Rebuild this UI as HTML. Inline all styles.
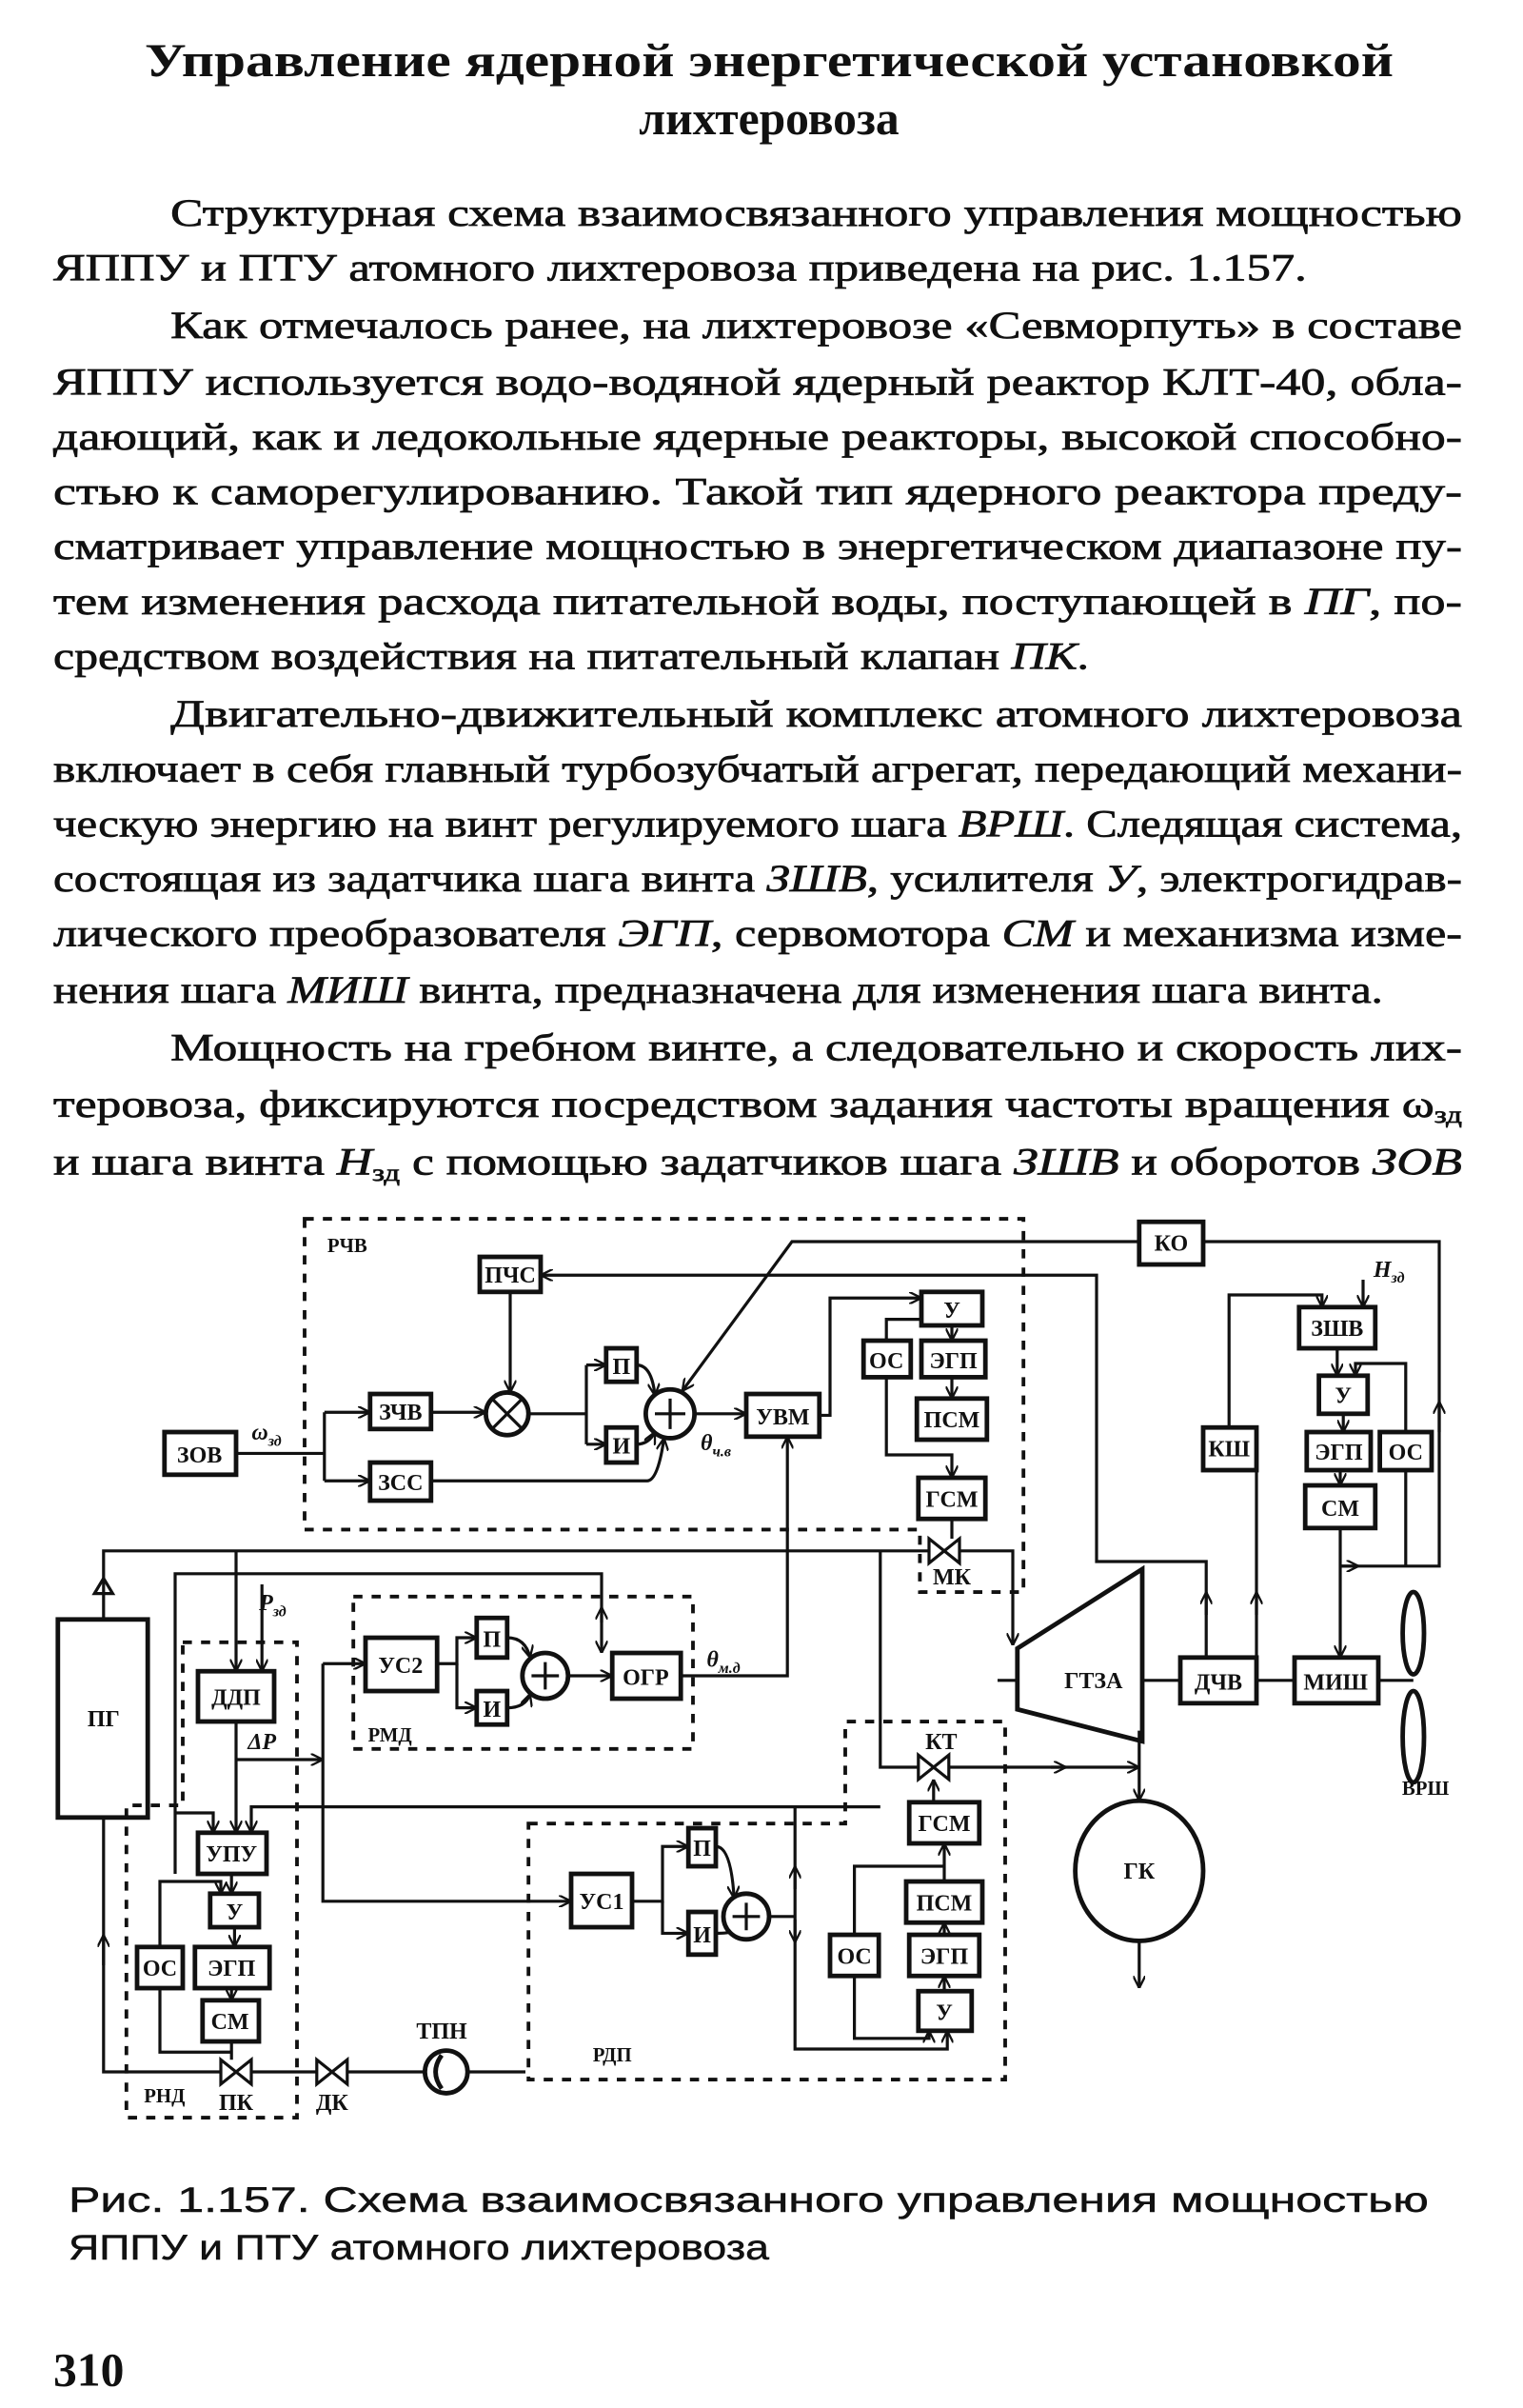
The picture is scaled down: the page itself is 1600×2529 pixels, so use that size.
<!DOCTYPE html>
<html><head><meta charset="utf-8">
<style>
html,body{margin:0;padding:0;background:#fff;}
svg{display:block;}
.t{font-family:"Liberation Serif","Noto Serif CJK SC",serif;font-size:25px;fill:#111;stroke:#111;stroke-width:0.45;}
.ti{font-family:"Liberation Serif","Noto Serif CJK SC",serif;font-weight:bold;font-size:31px;fill:#111;}
.cap{font-family:"Liberation Sans","Noto Sans CJK SC",sans-serif;font-size:23px;fill:#111;stroke:#111;stroke-width:0.3;}
.b{fill:none;stroke:#111;stroke-width:3;}
.l{fill:none;stroke:#111;stroke-width:2;}
.d{fill:none;stroke:#111;stroke-width:2.4;stroke-dasharray:6 6;}
.lb{font-family:"Liberation Serif",serif;font-size:15px;font-weight:bold;fill:#111;text-anchor:middle;}
.sl{font-family:"Liberation Serif",serif;font-size:13px;font-weight:bold;fill:#111;text-anchor:middle;}
</style></head><body>
<svg width="1600" height="2529" viewBox="0 0 1000 1580.6" xmlns="http://www.w3.org/2000/svg">
<defs>
<marker id="a" viewBox="0 0 10 10" refX="10" refY="5" markerWidth="8" markerHeight="8" markerUnits="userSpaceOnUse" orient="auto"><path d="M0,0 L10,5 L0,10" fill="none" stroke="#111" stroke-width="1.8"/></marker>
</defs>
<rect width="1000" height="1581" fill="#fff"/>
<text class="ti" x="505" y="50" text-anchor="middle" textLength="820" lengthAdjust="spacingAndGlyphs">Управление ядерной энергетической установкой</text>
<text class="ti" x="505" y="88" text-anchor="middle">лихтеровоза</text>
<g class="t">
<text x="112" y="148" textLength="848" lengthAdjust="spacingAndGlyphs">Структурная схема взаимосвязанного управления мощностью</text>
<text x="35" y="184" textLength="823" lengthAdjust="spacingAndGlyphs">ЯППУ и ПТУ атомного лихтеровоза приведена на рис. 1.157.</text>
<text x="112" y="222" textLength="848" lengthAdjust="spacingAndGlyphs">Как отмечалось ранее, на лихтеровозе «Севморпуть» в составе</text>
<text x="35" y="259" textLength="925" lengthAdjust="spacingAndGlyphs">ЯППУ используется водо-водяной ядерный реактор КЛТ-40, обла-</text>
<text x="35" y="295" textLength="925" lengthAdjust="spacingAndGlyphs">дающий, как и ледокольные ядерные реакторы, высокой способно-</text>
<text x="35" y="331" textLength="925" lengthAdjust="spacingAndGlyphs">стью к саморегулированию. Такой тип ядерного реактора преду-</text>
<text x="35" y="367" textLength="925" lengthAdjust="spacingAndGlyphs">сматривает управление мощностью в энергетическом диапазоне пу-</text>
<text x="35" y="403" textLength="925" lengthAdjust="spacingAndGlyphs">тем изменения расхода питательной воды, поступающей в <tspan font-style="italic">ПГ</tspan>, по-</text>
<text x="35" y="439" textLength="680" lengthAdjust="spacingAndGlyphs">средством воздействия на питательный клапан <tspan font-style="italic">ПК</tspan>.</text>
<text x="112" y="477" textLength="848" lengthAdjust="spacingAndGlyphs">Двигательно-движительный комплекс атомного лихтеровоза</text>
<text x="35" y="513" textLength="925" lengthAdjust="spacingAndGlyphs">включает в себя главный турбозубчатый агрегат, передающий механи-</text>
<text x="35" y="549" textLength="925" lengthAdjust="spacingAndGlyphs">ческую энергию на винт регулируемого шага <tspan font-style="italic">ВРШ</tspan>. Следящая система,</text>
<text x="35" y="585" textLength="925" lengthAdjust="spacingAndGlyphs">состоящая из задатчика шага винта <tspan font-style="italic">ЗШВ</tspan>, усилителя <tspan font-style="italic">У</tspan>, электрогидрав-</text>
<text x="35" y="621" textLength="925" lengthAdjust="spacingAndGlyphs">лического преобразователя <tspan font-style="italic">ЭГП</tspan>, сервомотора <tspan font-style="italic">СМ</tspan> и механизма изме-</text>
<text x="35" y="658" textLength="873" lengthAdjust="spacingAndGlyphs">нения шага <tspan font-style="italic">МИШ</tspan> винта, предназначена для изменения шага винта.</text>
<text x="112" y="696" textLength="848" lengthAdjust="spacingAndGlyphs">Мощность на гребном винте, а следовательно и скорость лих-</text>
<text x="35" y="733" textLength="925" lengthAdjust="spacingAndGlyphs">теровоза, фиксируются посредством задания частоты вращения ω<tspan font-size="16" dy="4">зд</tspan></text>
<text x="35" y="771" textLength="925" lengthAdjust="spacingAndGlyphs">и шага винта <tspan font-style="italic">Н</tspan><tspan font-size="16" dy="4">зд</tspan><tspan dy="-4"> с помощью задатчиков шага </tspan><tspan font-style="italic">ЗШВ</tspan> и оборотов <tspan font-style="italic">ЗОВ</tspan></text>
</g>

<path class="d" d="M200,800 H672 V1045 H604 V1004 H200 Z"/>
<path class="d" d="M232,1048 H455 V1148 H232 Z"/>
<path class="d" d="M120,1078 H195 V1390 H83 V1185 H120 Z"/>
<path class="d" d="M347,1197 H555 V1130 H660 V1365 H347 Z"/>

<text class="sl" x="228" y="822">РЧВ</text>
<text class="sl" x="256" y="1143">РМД</text>
<text class="sl" x="108" y="1380">РНД</text>
<text class="sl" x="402" y="1353">РДП</text>

<g class="b">
<rect x="108" y="940" width="47" height="28"/>
<rect x="315" y="825" width="40" height="23"/>
<rect x="243" y="915" width="40" height="23"/>
<rect x="243" y="960" width="40" height="25"/>
<rect x="398" y="885" width="20" height="22"/>
<rect x="398" y="937" width="20" height="23"/>
<rect x="490" y="915" width="48" height="28"/>
<rect x="605" y="848" width="40" height="22"/>
<rect x="567" y="880" width="31" height="24"/>
<rect x="605" y="880" width="42" height="24"/>
<rect x="602" y="918" width="46" height="27"/>
<rect x="603" y="970" width="44" height="27"/>
<rect x="748" y="802" width="42" height="28"/>
<rect x="853" y="858" width="50" height="27"/>
<rect x="866" y="903" width="32" height="25"/>
<rect x="790" y="937" width="35" height="28"/>
<rect x="858" y="940" width="42" height="25"/>
<rect x="906" y="940" width="34" height="25"/>
<rect x="857" y="975" width="46" height="28"/>
<rect x="775" y="1088" width="50" height="30"/>
<rect x="850" y="1088" width="55" height="30"/>
<rect x="38" y="1063" width="59" height="130"/>
<rect x="130" y="1097" width="50" height="33"/>
<rect x="130" y="1203" width="45" height="27"/>
<rect x="138" y="1243" width="32" height="22"/>
<rect x="90" y="1278" width="30" height="27"/>
<rect x="128" y="1278" width="49" height="27"/>
<rect x="133" y="1313" width="37" height="27"/>
<rect x="240" y="1075" width="47" height="35"/>
<rect x="313" y="1062" width="20" height="26"/>
<rect x="313" y="1110" width="20" height="22"/>
<rect x="402" y="1085" width="45" height="30"/>
<rect x="597" y="1183" width="46" height="27"/>
<rect x="595" y="1235" width="50" height="27"/>
<rect x="545" y="1270" width="32" height="27"/>
<rect x="597" y="1270" width="46" height="27"/>
<rect x="603" y="1307" width="35" height="26"/>
<rect x="375" y="1230" width="40" height="35"/>
<rect x="452" y="1200" width="18" height="25"/>
<rect x="452" y="1255" width="18" height="28"/>
<circle cx="333" cy="928" r="14"/>
<circle cx="440" cy="928" r="16"/>
<circle cx="358" cy="1100" r="15"/>
<circle cx="490" cy="1258" r="15"/>
<ellipse cx="748" cy="1228" rx="42" ry="46"/>
<path d="M668,1082 L750,1030 V1143 L668,1122 Z"/>
<ellipse cx="928" cy="1072" rx="7" ry="27"/>
<ellipse cx="928" cy="1140" rx="7" ry="30"/>
<circle cx="293" cy="1360" r="14"/>
</g>
<path class="l" d="M323,918 L343,938 M343,918 L323,938"/>
<path class="l" d="M440,918 V938 M430,928 H450 M358,1091 V1109 M349,1100 H367 M490,1249 V1267 M481,1258 H499"/>
<path class="b" d="M290,1349 Q282,1360 290,1371" />

<g class="lb">
<text x="131" y="960">ЗОВ</text>
<text x="335" y="842">ПЧС</text>
<text x="263" y="932">ЗЧВ</text>
<text x="263" y="978">ЗСС</text>
<text x="408" y="902">П</text>
<text x="408" y="954">И</text>
<text x="514" y="935">УВМ</text>
<text x="625" y="865">У</text>
<text x="582" y="898">ОС</text>
<text x="626" y="898">ЭГП</text>
<text x="625" y="937">ПСМ</text>
<text x="625" y="989">ГСМ</text>
<text x="769" y="821">КО</text>
<text x="878" y="877">ЗШВ</text>
<text x="882" y="921">У</text>
<text x="807" y="956">КШ</text>
<text x="879" y="958">ЭГП</text>
<text x="923" y="958">ОС</text>
<text x="880" y="995">СМ</text>
<text x="718" y="1108">ГТЗА</text>
<text x="800" y="1109">ДЧВ</text>
<text x="877" y="1109">МИШ</text>
<text x="748" y="1233">ГК</text>
<text x="68" y="1133">ПГ</text>
<text x="155" y="1119">ДДП</text>
<text x="152" y="1222">УПУ</text>
<text x="154" y="1260">У</text>
<text x="105" y="1297">ОС</text>
<text x="152" y="1297">ЭГП</text>
<text x="151" y="1332">СМ</text>
<text x="263" y="1098">УС2</text>
<text x="323" y="1081">П</text>
<text x="323" y="1127">И</text>
<text x="424" y="1106">ОГР</text>
<text x="620" y="1202">ГСМ</text>
<text x="620" y="1254">ПСМ</text>
<text x="561" y="1289">ОС</text>
<text x="620" y="1289">ЭГП</text>
<text x="620" y="1326">У</text>
<text x="395" y="1253">УС1</text>
<text x="461" y="1218">П</text>
<text x="461" y="1275">И</text>
<text x="625" y="1040">МК</text>
<text x="618" y="1148">КТ</text>
<text x="155" y="1385">ПК</text>
<text x="218" y="1385">ДК</text>
<text x="290" y="1338">ТПН</text>
</g>
<text class="sl" x="936" y="1178">ВРШ</text>
<g class="lb" font-style="italic">
<text x="175" y="945">ω<tspan font-size="10" dy="4">зд</tspan></text>
<text x="470" y="952">θ<tspan font-size="10" dy="4">ч.в</tspan></text>
<text x="475" y="1094">θ<tspan font-size="10" dy="4">м.д</tspan></text>
<text x="179" y="1057">P<tspan font-size="10" dy="4">зд</tspan></text>
<text x="172" y="1148">ΔP</text>
<text x="912" y="838">Н<tspan font-size="10" dy="4">зд</tspan></text>
</g>

<g class="l">
<path d="M610,1010 L630,1026 V1010 L610,1026 Z"/>
<path d="M603,1152 L623,1168 V1152 L603,1168 Z"/>
<path d="M145,1352 L165,1368 V1352 L145,1368 Z"/>
<path d="M208,1352 L228,1368 V1352 L208,1368 Z"/>
<path d="M62,1046 L68,1036 L74,1046 Z"/>
</g>

<g class="l">
<path d="M155,954 H213"/>
<path d="M213,927 V972"/>
<path d="M213,927 H243" marker-end="url(#a)"/>
<path d="M213,972 H243" marker-end="url(#a)"/>
<path d="M283,927 H319" marker-end="url(#a)"/>
<path d="M335,848 V914" marker-end="url(#a)"/>
<path d="M347,928 H385"/>
<path d="M385,896 V948"/>
<path d="M385,896 H398" marker-end="url(#a)"/>
<path d="M385,948 H398" marker-end="url(#a)"/>
<path d="M418,896 Q428,896 430,916" marker-end="url(#a)"/>
<path d="M418,948 Q426,948 430,940" marker-end="url(#a)"/>
<path d="M283,972 H425 Q432,972 436,944" marker-end="url(#a)"/>
<path d="M456,928 H490" marker-end="url(#a)"/>
<path d="M748,815 H520 L448,913" marker-end="url(#a)"/>
<path d="M790,815 H945 V1028 H880"/>
<path d="M945,940 V920" marker-end="url(#a)"/>
<path d="M923,965 V1028"/>
<path d="M880,1003 V1088" marker-end="url(#a)"/>
<path d="M880,1028 H892" marker-end="url(#a)"/>
<path d="M895,840 V858" marker-end="url(#a)"/>
<path d="M878,885 V903" marker-end="url(#a)"/>
<path d="M882,928 V940" marker-end="url(#a)"/>
<path d="M880,965 V975" marker-end="url(#a)"/>
<path d="M923,940 V895 H890 V903" marker-end="url(#a)"/>
<path d="M825,1088 V965"/>
<path d="M825,1060 V1045" marker-end="url(#a)"/>
<path d="M807,937 V850 H868 V858" marker-end="url(#a)"/>
<path d="M792,1088 V1025 H720 V837 H355" marker-end="url(#a)"/>
<path d="M792,1060 V1045" marker-end="url(#a)"/>
<path d="M538,929 H545 V852 H605" marker-end="url(#a)"/>
<path d="M625,870 V880" marker-end="url(#a)"/>
<path d="M625,904 V918" marker-end="url(#a)"/>
<path d="M605,866 H582 V880"/>
<path d="M582,904 V955 H625 V970" marker-end="url(#a)"/>
<path d="M625,997 V1010"/>
<path d="M68,1063 V1018 H610 M630,1018 H665 V1080" marker-end="url(#a)"/>
<path d="M517,1018 V943" marker-end="url(#a)"/>
<path d="M447,1100 H517 V1018"/>
<path d="M115,1230 V1033 H395 V1085" marker-end="url(#a)"/>
<path d="M395,1065 V1055" marker-end="url(#a)"/>
<path d="M155,1018 V1097" marker-end="url(#a)"/>
<path d="M172,1040 V1097" marker-end="url(#a)"/>
<path d="M115,1190 H140 V1203" marker-end="url(#a)"/>
<path d="M155,1130 V1203" marker-end="url(#a)"/>
<path d="M155,1155 H212" marker-end="url(#a)"/>
<path d="M212,1092 V1248 H375" marker-end="url(#a)"/>
<path d="M212,1092 H240" marker-end="url(#a)"/>
<path d="M287,1092 H300 V1075 H313" marker-end="url(#a)"/>
<path d="M300,1092 V1121 H313" marker-end="url(#a)"/>
<path d="M333,1075 Q345,1075 348,1088" marker-end="url(#a)"/>
<path d="M333,1121 Q345,1121 348,1112" marker-end="url(#a)"/>
<path d="M373,1100 H402" marker-end="url(#a)"/>
<path d="M578,1018 V1160 H603 M623,1160 H748" marker-end="url(#a)"/>
<path d="M690,1160 H700" marker-end="url(#a)"/>
<path d="M578,1186 H165 V1203" marker-end="url(#a)"/>
<path d="M748,1136 V1182" marker-end="url(#a)"/>
<path d="M748,1274 V1305" marker-end="url(#a)"/>
<path d="M655,1103 H668"/>
<path d="M750,1103 H775 M825,1103 H850 M905,1103 H928"/>
<path d="M152,1230 V1243" marker-end="url(#a)"/>
<path d="M154,1265 V1278" marker-end="url(#a)"/>
<path d="M152,1305 V1313" marker-end="url(#a)"/>
<path d="M152,1340 V1352"/>
<path d="M105,1278 V1235 H145 V1243" marker-end="url(#a)"/>
<path d="M105,1305 V1347 H152"/>
<path d="M68,1193 V1360 H145 M165,1360 H208 M228,1360 H279 M307,1360 H345"/>
<path d="M68,1290 V1270" marker-end="url(#a)"/>
<path d="M415,1248 H435 V1212 H452" marker-end="url(#a)"/>
<path d="M435,1248 V1269 H452" marker-end="url(#a)"/>
<path d="M470,1212 Q480,1212 482,1246" marker-end="url(#a)"/>
<path d="M470,1269 Q478,1269 480,1268"/>
<path d="M505,1258 H522"/>
<path d="M522,1186 V1345 H622 V1333" marker-end="url(#a)"/>
<path d="M522,1240 V1225" marker-end="url(#a)"/>
<path d="M522,1260 V1275" marker-end="url(#a)"/>
<path d="M561,1297 V1338 H610 V1333" marker-end="url(#a)"/>
<path d="M561,1270 V1225 H620"/>
<path d="M620,1307 V1297" marker-end="url(#a)"/>
<path d="M620,1270 V1262" marker-end="url(#a)"/>
<path d="M620,1235 V1210" marker-end="url(#a)"/>
<path d="M613,1183 V1168" marker-end="url(#a)"/>
</g>

<text class="cap" x="45" y="1452" textLength="893" lengthAdjust="spacingAndGlyphs">Рис. 1.157. Схема взаимосвязанного управления мощностью</text>
<text class="cap" x="45" y="1483" textLength="460" lengthAdjust="spacingAndGlyphs">ЯППУ и ПТУ атомного лихтеровоза</text>
<text class="ti" x="35" y="1566" font-size="28">310</text>
</svg>
</body></html>
